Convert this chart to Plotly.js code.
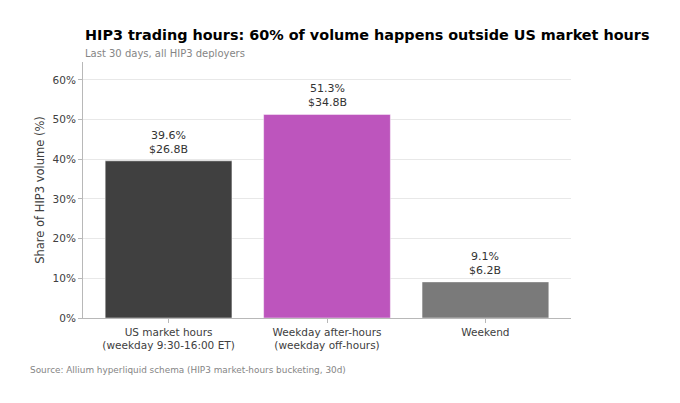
<!DOCTYPE html>
<html>
<head>
<meta charset="utf-8">
<script src="https://cdn.plot.ly/plotly-3.0.1.min.js"></script>
<style>html,body{margin:0;padding:0;background:#fff;}#chart{width:680px;height:403px;}</style>
</head>
<body>
<div id="chart"></div>
<script>
const categories = ["US market hours<br>(weekday 9:30-16:00 ET)", "Weekday after-hours<br>(weekday off-hours)", "Weekend"];
const sharePct = [39.6, 51.3, 9.1];
const volumeB = [26.8, 34.8, 6.2];
const yTickVals = [0, 10, 20, 30, 40, 50, 60];
const yTickText = ["0%", "10%", "20%", "30%", "40%", "50%", "60%"];

const barColors = ["#404040", "#bd55bd", "#7a7a7a"];
const font = "DejaVu Sans, sans-serif";

const trace = {
  type: "bar",
  x: categories,
  y: sharePct,
  width: 0.8,
  marker: {color: barColors, line: {color: "rgba(255,255,255,0.6)", width: 0.8}},
  hoverinfo: "skip"
};

const annotations = categories.map((c, i) => ({
  x: c, y: sharePct[i], xref: "x", yref: "y",
  text: sharePct[i].toFixed(1) + "%<br>$" + volumeB[i].toFixed(1) + "B",
  showarrow: false, yanchor: "bottom", yshift: 3,
  font: {family: font, size: 11, color: "#333333"}
}));

annotations.push({
  xref: "paper", yref: "paper", x: 0, y: 1.105, xanchor: "left", yanchor: "middle",
  text: "<b>HIP3 trading hours: 60% of volume happens outside US market hours</b>",
  showarrow: false, font: {family: font, size: 14.4, color: "#000000"}
});
annotations.push({
  xref: "paper", yref: "paper", x: 0, y: 1.035, xanchor: "left", yanchor: "middle",
  text: "Last 30 days, all HIP3 deployers",
  showarrow: false, font: {family: font, size: 10, color: "#858585"}
});
annotations.push({
  xref: "paper", yref: "paper", x: -0.113, y: -0.203, xanchor: "left", yanchor: "middle",
  text: "Source: Allium hyperliquid schema (HIP3 market-hours bucketing, 30d)",
  showarrow: false, font: {family: font, size: 8.9, color: "#858585"}
});

const layout = {
  width: 680, height: 403,
  margin: {l: 83, r: 109, t: 62, b: 85, pad: 0},
  paper_bgcolor: "#ffffff", plot_bgcolor: "#ffffff",
  showlegend: false,
  font: {family: font, color: "#404040"},
  xaxis: {
    type: "category", range: [-0.54, 2.54],
    showline: true, linecolor: "#b8b8b8", linewidth: 1,
    ticks: "outside", ticklen: 4, tickcolor: "#b8b8b8",
    showgrid: false, zeroline: false,
    tickfont: {family: font, size: 10.5, color: "#404040"}
  },
  yaxis: {
    range: [0, 64.5],
    tickvals: yTickVals, ticktext: yTickText,
    showline: true, linecolor: "#b8b8b8", linewidth: 1,
    ticks: "outside", ticklen: 4, tickcolor: "#b8b8b8",
    showgrid: true, gridcolor: "#e8e8e8", gridwidth: 1, zeroline: false,
    tickfont: {family: font, size: 10.5, color: "#404040"},
    title: {text: "Share of HIP3 volume (%)", font: {family: font, size: 11.5, color: "#404040"}, standoff: 5}
  },
  annotations: annotations
};

Plotly.newPlot("chart", [trace], layout, {displayModeBar: false, staticPlot: true});
</script>
</body>
</html>
